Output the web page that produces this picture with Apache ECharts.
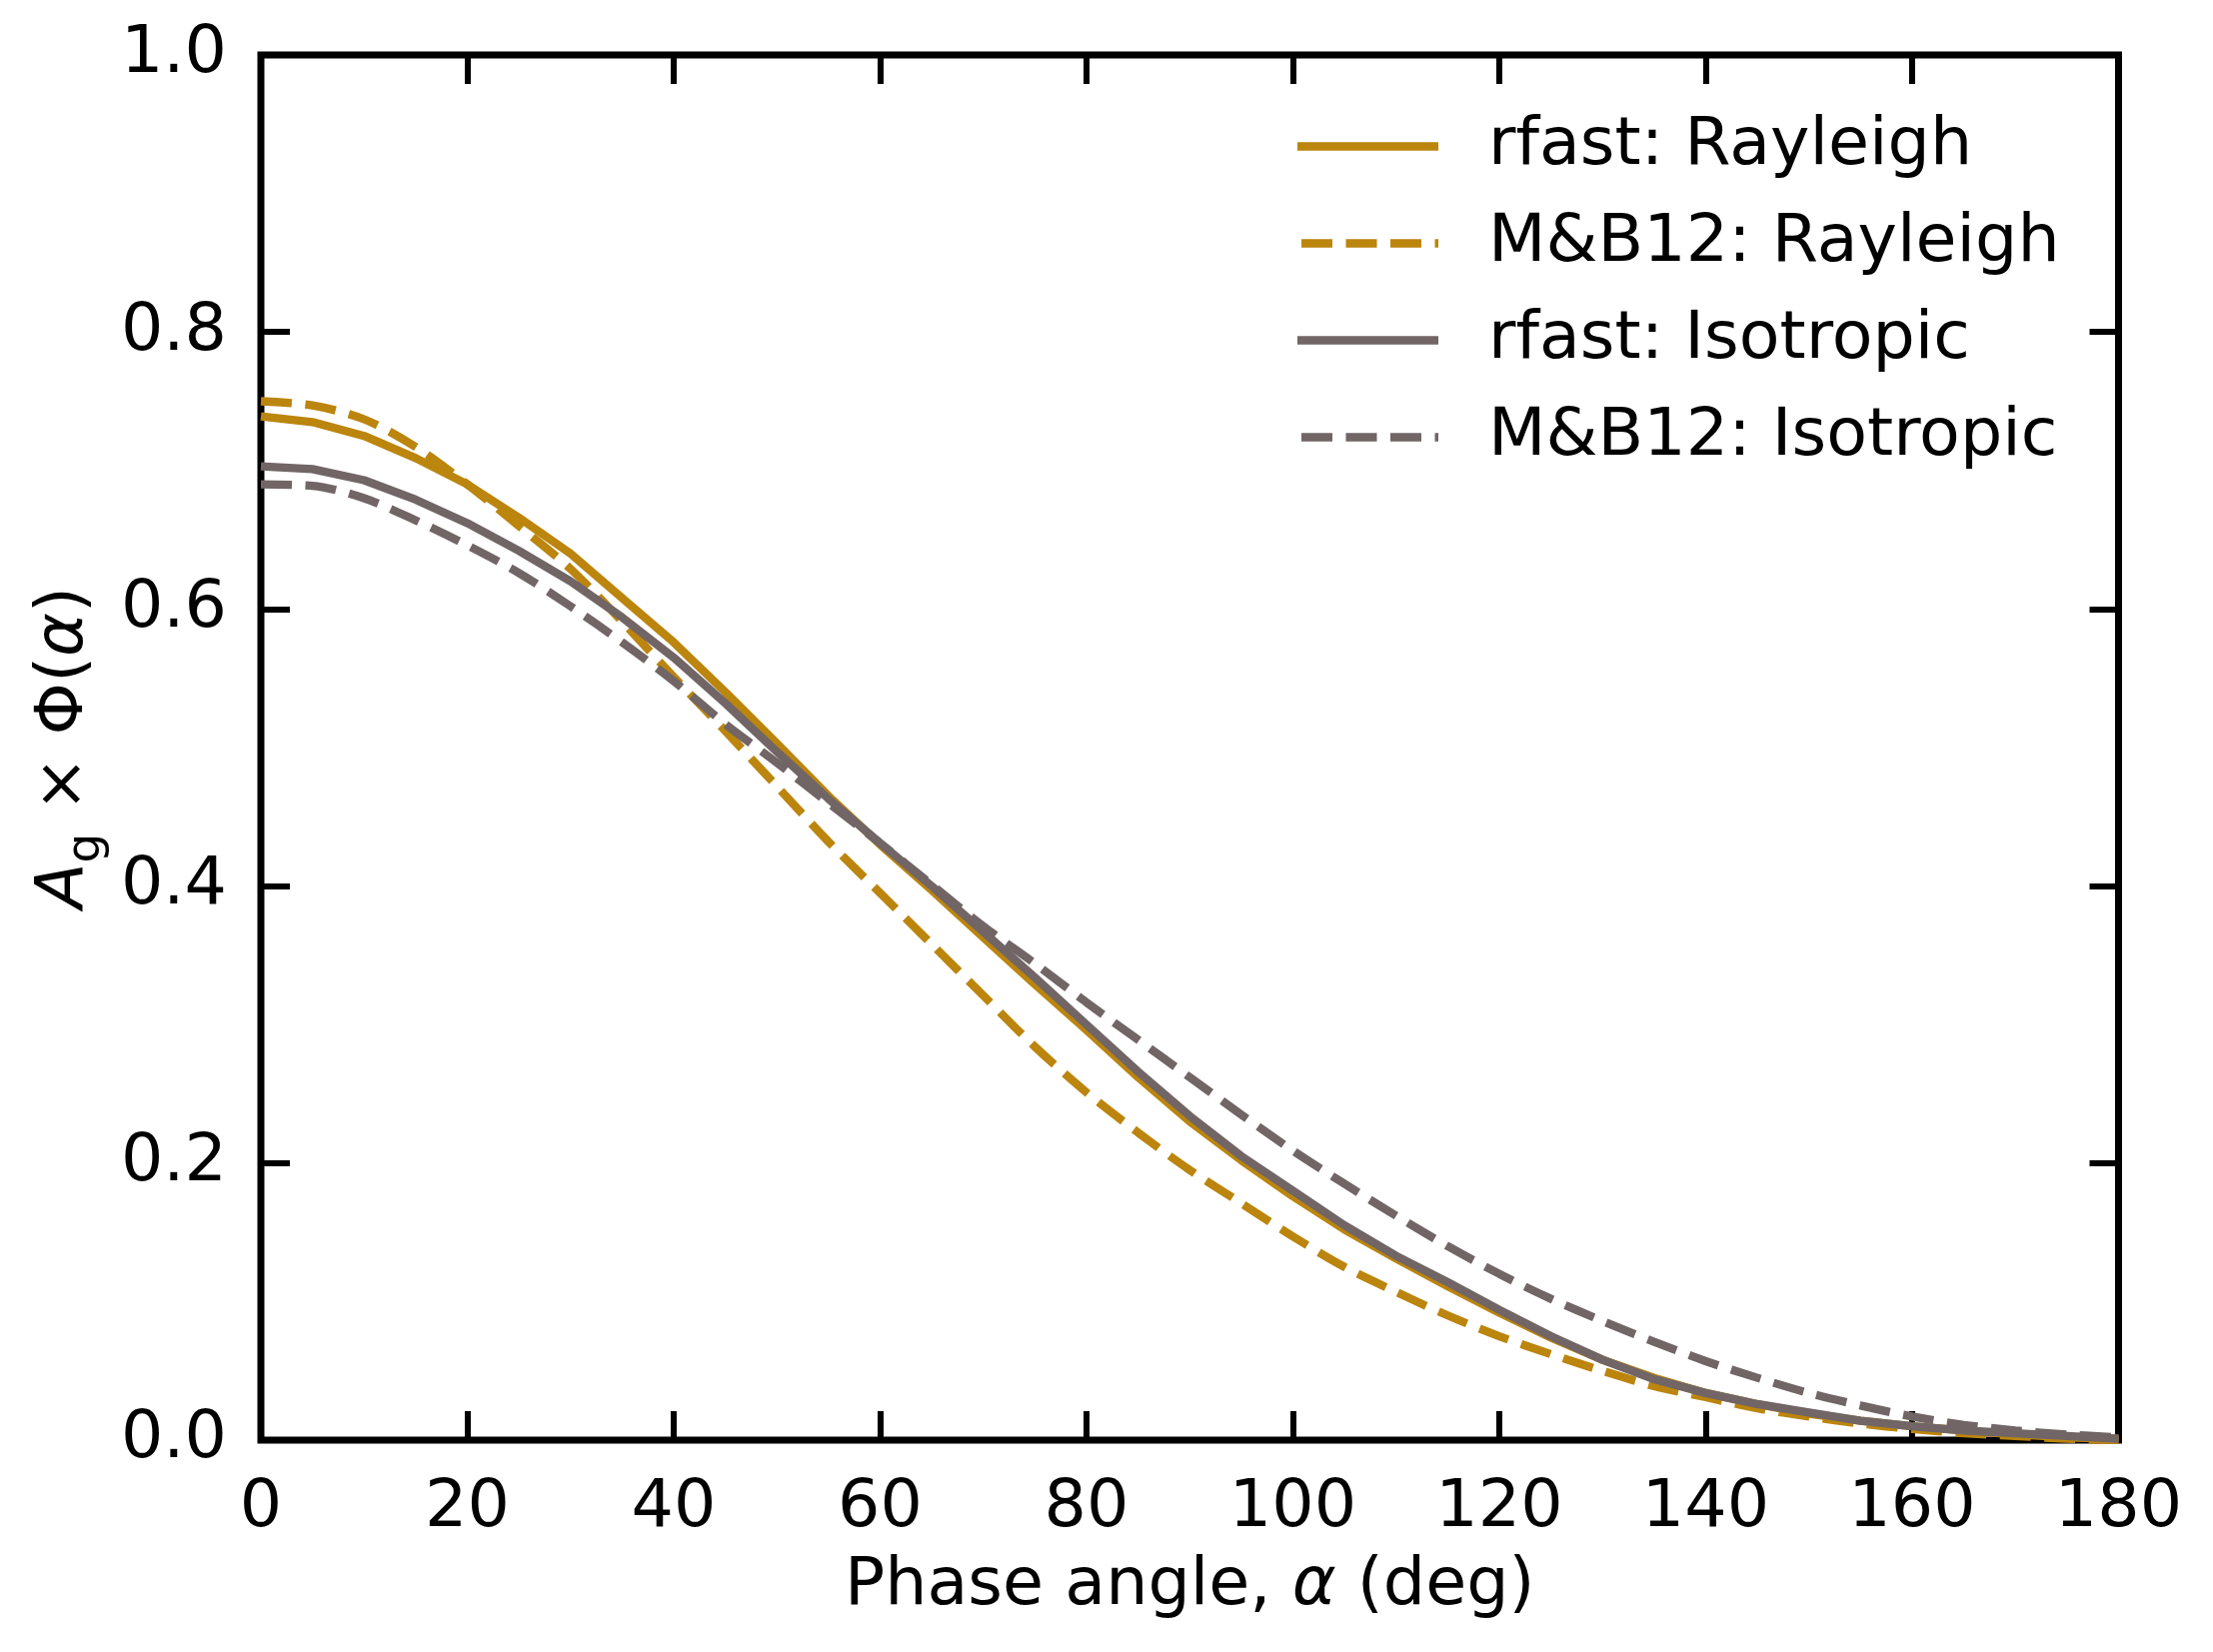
<!DOCTYPE html>
<html>
<head>
<meta charset="utf-8">
<script src="https://cdn.jsdelivr.net/npm/echarts@6/dist/echarts.min.js"></script>
<style>
html,body{margin:0;padding:0;background:#fff;}
#chart{width:2214px;height:1653px;}
</style>
</head>
<body>
<div id="chart"></div>
<script>
// Phase angle grid (deg)
const angles = [0,5,10,15,20,25,30,35,40,45,50,55,60,65,70,75,80,85,90,95,100,105,110,115,120,125,130,135,140,145,150,155,160,165,170,175,180];
// rfast: Rayleigh
const rfastRayleigh = [0.739,0.735,0.725,0.709,0.690,0.666,0.640,0.608,0.576,0.540,0.503,0.465,0.430,0.397,0.363,0.329,0.296,0.262,0.230,0.202,0.176,0.152,0.131,0.111,0.092,0.074,0.058,0.045,0.034,0.026,0.019,0.014,0.010,0.007,0.004,0.002,0.001];
// M&B12: Rayleigh
const mbRayleigh = [0.750,0.747,0.737,0.717,0.690,0.660,0.629,0.591,0.551,0.512,0.472,0.432,0.395,0.358,0.321,0.284,0.251,0.222,0.195,0.171,0.147,0.125,0.107,0.090,0.075,0.062,0.050,0.039,0.031,0.023,0.017,0.012,0.008,0.005,0.003,0.001,0.000];
// rfast: Isotropic
const rfastIsotropic = [0.703,0.701,0.693,0.679,0.662,0.642,0.620,0.594,0.565,0.532,0.497,0.463,0.431,0.400,0.367,0.334,0.300,0.266,0.234,0.205,0.180,0.155,0.133,0.114,0.094,0.075,0.058,0.044,0.034,0.026,0.020,0.014,0.010,0.007,0.005,0.003,0.001];
// M&B12: Isotropic
const mbIsotropic = [0.690,0.689,0.680,0.664,0.646,0.626,0.602,0.576,0.548,0.517,0.489,0.460,0.431,0.401,0.371,0.344,0.316,0.289,0.262,0.235,0.209,0.185,0.162,0.140,0.120,0.102,0.086,0.071,0.057,0.045,0.034,0.025,0.017,0.011,0.007,0.004,0.002];
const xTicks = [0,20,40,60,80,100,120,140,160,180];
const yTicks = [0.0,0.2,0.4,0.6,0.8,1.0];
const seriesNames = ['rfast: Rayleigh','M&B12: Rayleigh','rfast: Isotropic','M&B12: Isotropic'];

const GOLD = '#BB850E';
const GREY = '#716566';
const FONT = 'DejaVu Sans';
const FS = 66.7;
const LW = 8.3;
const DASH = [31, 13.5];

// legend handle shapes (141 x 8.3 px)
const ICON_SOLID = 'path://M0,0h141v8.3h-141z';
const ICON_DASH = 'path://M0,0h0.01v8.3h-0.01zM4,0h31v8.3h-31zM48.5,0h31v8.3h-31zM93,0h31v8.3h-31zM137.5,0h3.5v8.3h-3.5z';

function pairs(vals){ return angles.map((a,i)=>[a, vals[i]]); }

const chart = echarts.init(document.getElementById('chart'), null, {renderer:'canvas'});

const tickStyle = {show:true, inside:true, length:29, lineStyle:{color:'#000', width:6}};
const baseX = {
  type:'value', min:xTicks[0], max:xTicks[xTicks.length-1], interval:20,
  axisLine:{show:false, onZero:false}, axisTick:tickStyle, splitLine:{show:false}
};
const baseY = {
  type:'value', min:yTicks[0], max:yTicks[yTicks.length-1], interval:0.2,
  axisLine:{show:false, onZero:false}, axisTick:tickStyle, splitLine:{show:false}
};

function mkSeries(name, vals, color, dashed, smooth){
  return {
    name:name, type:'line', data:pairs(vals), showSymbol:false, symbol:'none',
    smooth:smooth, clip:true, animation:false, xAxisIndex:0, yAxisIndex:0,
    lineStyle:{color:color, width:LW, type: dashed ? DASH : 'solid', cap:'butt'},
    itemStyle:{color:color}
  };
}

const colors = [GOLD, GOLD, GREY, GREY];
const dashedFlags = [false, true, false, true];

const option = {
  backgroundColor:'#ffffff',
  animation:false,
  textStyle:{fontFamily:FONT},
  grid:{left:261, right:94.5, top:55, bottom:212, show:true, borderColor:'#000', borderWidth:7, backgroundColor:'transparent'},
  legend:{
    orient:'vertical', left:1298, top:113, padding:0,
    itemWidth:141, itemHeight:8.3, itemGap:30, symbolKeepAspect:false,
    data:seriesNames.map((n,i)=>({name:n, icon: dashedFlags[i] ? ICON_DASH : ICON_SOLID,
      itemStyle:{color:colors[i], borderWidth:0}})),
    textStyle:{fontFamily:FONT, fontSize:FS, color:'#000', padding:[0,0,0,45]}
  },
  xAxis:[
    Object.assign({}, baseX, {
      position:'bottom',
      axisLabel:{show:true, fontFamily:FONT, fontSize:FS, color:'#000', margin:35},
      name:'Phase angle, {it|α} (deg)', nameLocation:'middle', nameGap:113,
      nameTextStyle:{fontFamily:FONT, fontSize:FS, color:'#000',
        rich:{it:{fontFamily:FONT, fontStyle:'italic', fontSize:FS, color:'#000'}}}
    }),
    Object.assign({}, baseX, {position:'top', axisLabel:{show:false}})
  ],
  yAxis:[
    Object.assign({}, baseY, {
      position:'left',
      axisLabel:{show:true, fontFamily:FONT, fontSize:FS, color:'#000', margin:34,
        formatter:function(v){return v.toFixed(1);}},
      name:'{it|A}{sub|g}{n| × Φ(}{it|α}{n|)}', nameLocation:'middle', nameGap:146,
      nameTextStyle:{fontFamily:FONT, fontSize:FS, color:'#000',
        rich:{
          it:{fontFamily:FONT, fontStyle:'italic', fontSize:FS, lineHeight:90, color:'#000'},
          n:{fontFamily:FONT, fontSize:FS, lineHeight:90, color:'#000'},
          sub:{fontFamily:FONT, fontSize:46.7, lineHeight:61, verticalAlign:'bottom', color:'#000'}
        }}
    }),
    Object.assign({}, baseY, {position:'right', axisLabel:{show:false}})
  ],
  series:[
    mkSeries(seriesNames[0], rfastRayleigh, GOLD, false, false),
    mkSeries(seriesNames[1], mbRayleigh, GOLD, true, 0.3),
    mkSeries(seriesNames[2], rfastIsotropic, GREY, false, false),
    mkSeries(seriesNames[3], mbIsotropic, GREY, true, 0.3)
  ]
};
chart.setOption(option);
</script>
</body>
</html>
